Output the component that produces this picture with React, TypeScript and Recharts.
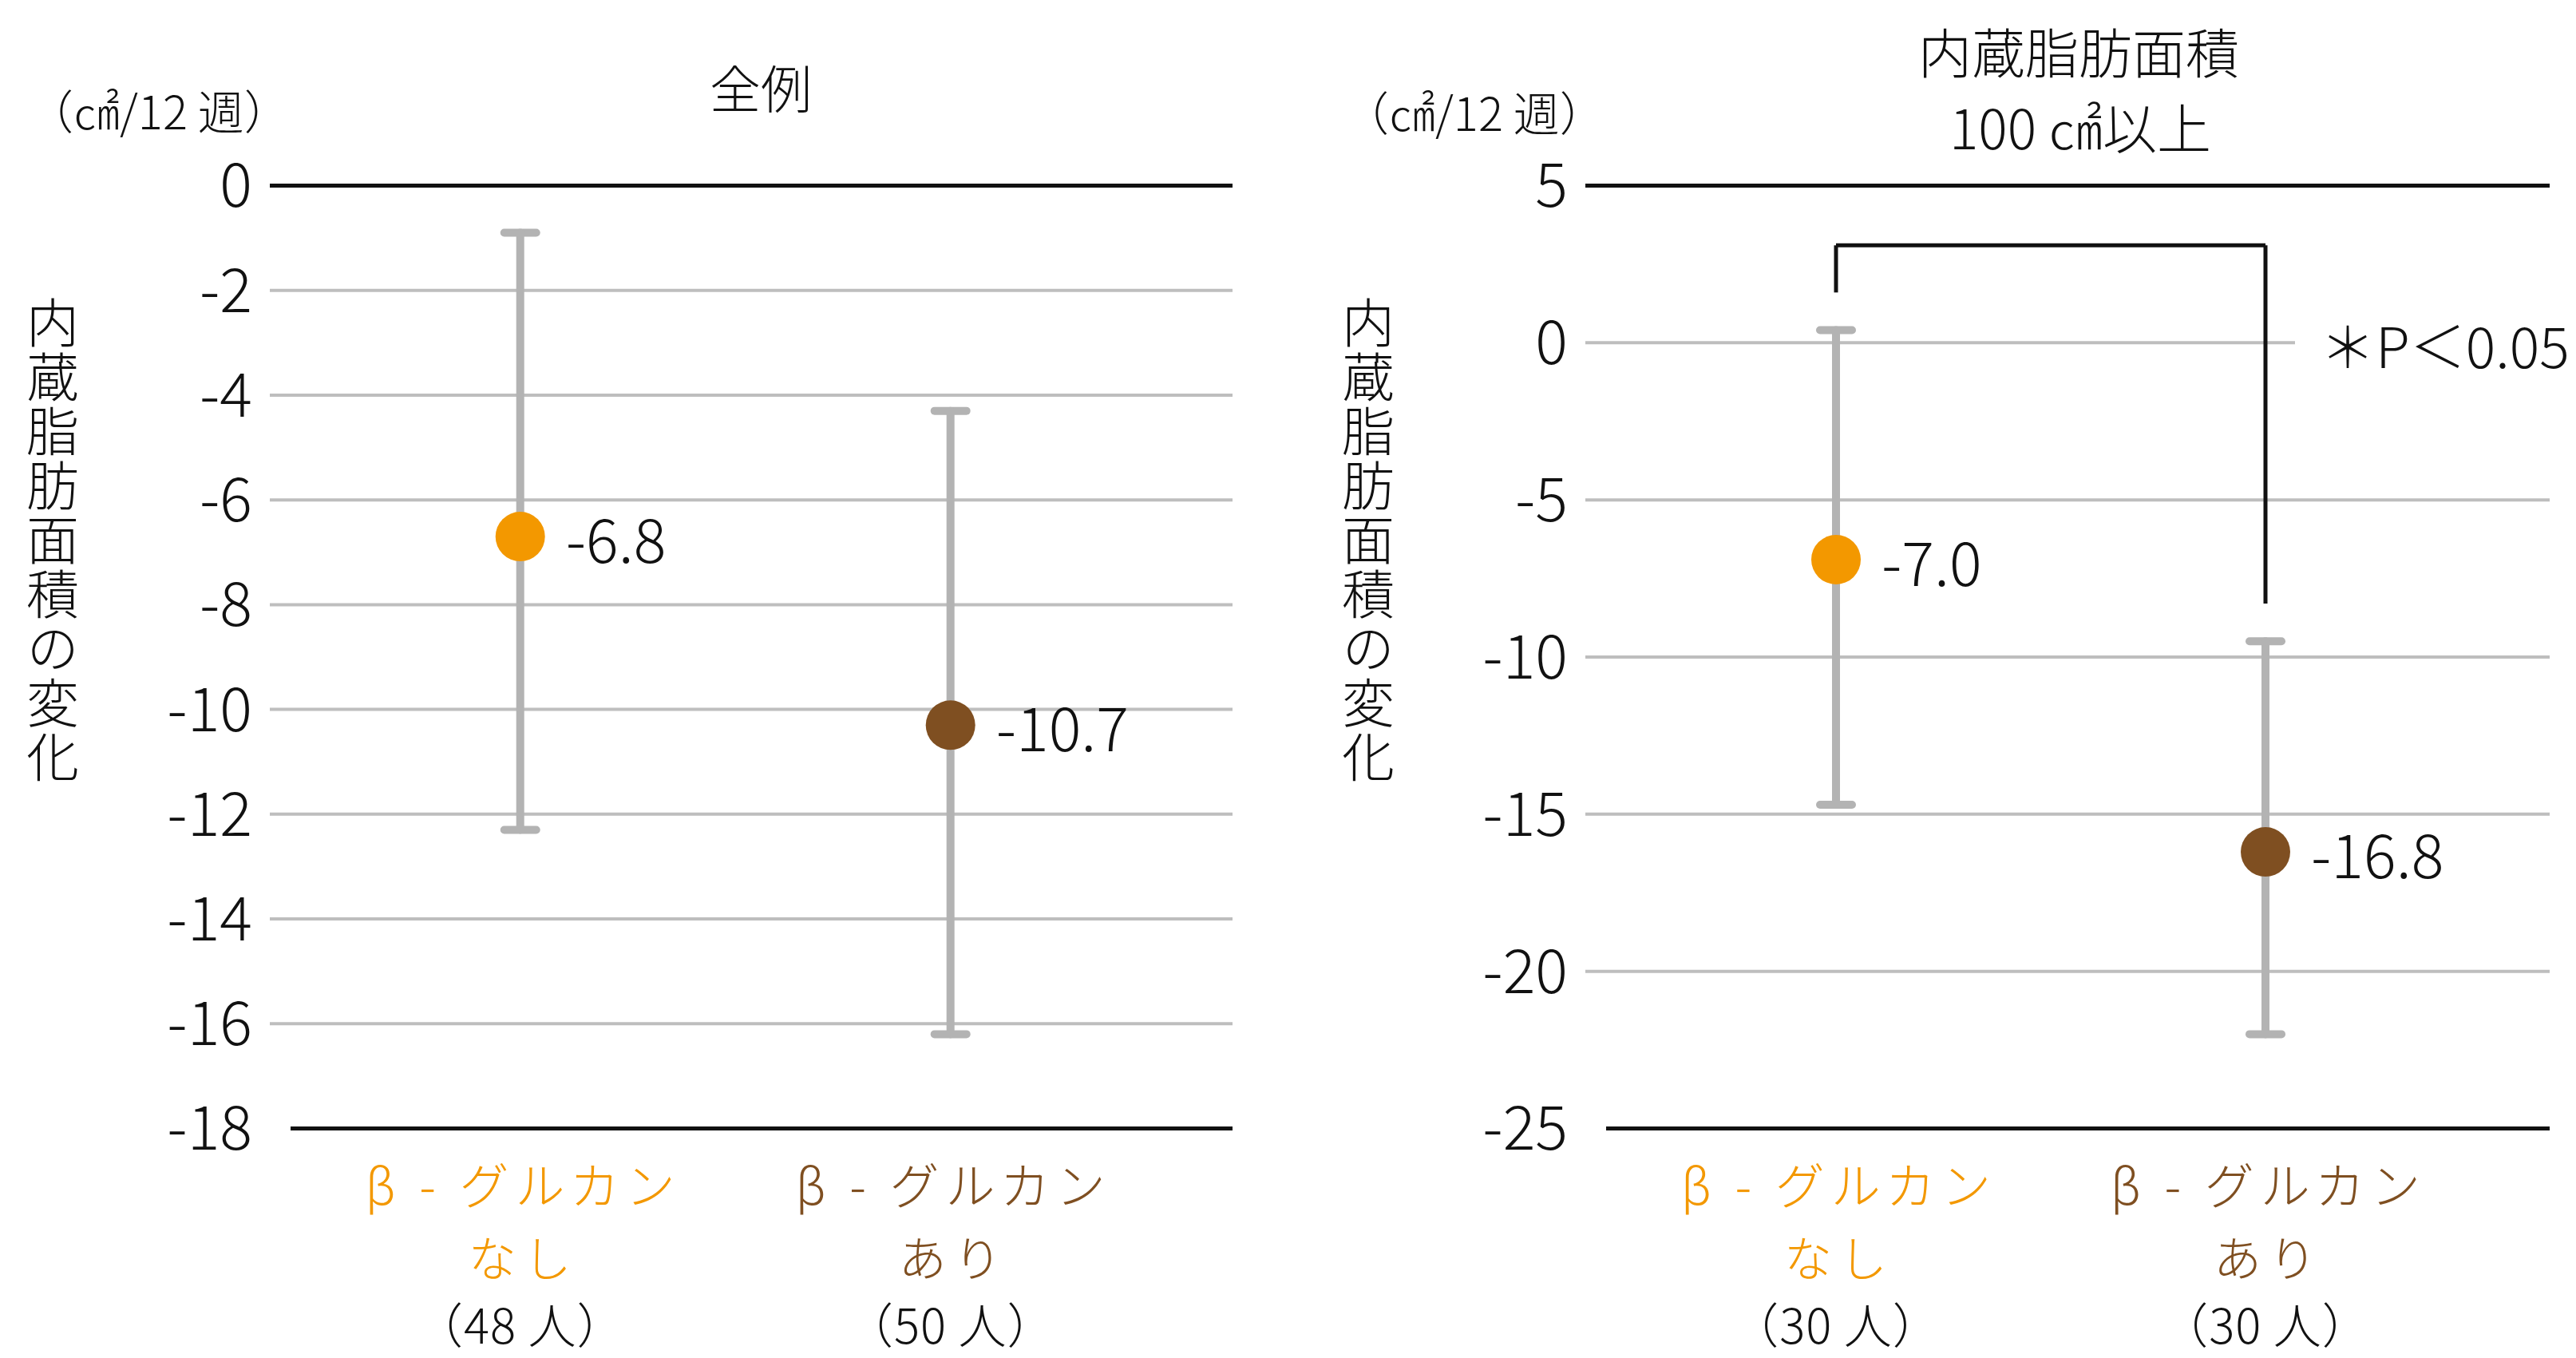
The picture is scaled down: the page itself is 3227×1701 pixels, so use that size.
import React from 'react';
import { LineChart, Line, XAxis, YAxis, CartesianGrid, ErrorBar, ReferenceLine, LabelList } from 'recharts';

const FONT = "'Noto Sans CJK JP', 'Noto Sans', sans-serif";
const ORANGE = '#F39800';
const BROWN = '#7F4F21';
const BAR_GRAY = '#B3B3B3';
const GRID_GRAY = '#BEBEBE';

// categories
const categoryKeys = ['none', 'with'];
const categoryLine1 = ['β - グルカン', 'β - グルカン'];
const categoryLine2 = ['なし', 'あり'];
const categoryColors = [ORANGE, BROWN];

// left panel: 全例
const allTitle = ['全例'];
const allCounts = ['（48 人）', '（50 人）'];
const allMeans = [-6.7, -10.3];
const allLabels = ['-6.8', '-10.7'];
const allUpper = [-0.9, -4.3];
const allLower = [-12.3, -16.2];
const allTicks = [0, -2, -4, -6, -8, -10, -12, -14, -16, -18];
const allGrid = [-2, -4, -6, -8, -10, -12, -14, -16];

// right panel: 内蔵脂肪面積 100㎠以上
const subTitle = ['内蔵脂肪面積', '100 ㎠以上'];
const subCounts = ['（30 人）', '（30 人）'];
const subMeans = [-6.9, -16.2];
const subLabels = ['-7.0', '-16.8'];
const subUpper = [0.4, -9.5];
const subLower = [-14.7, -22.0];
const subTicks = [5, 0, -5, -10, -15, -20, -25];
const subGrid = [0, -5, -10, -15, -20];
const subBracket = { top: 3.1, leftEnd: 1.6, rightEnd: -8.3 };
const pText = '＊P＜0.05';

const unitText = '（㎠/12 週）';
const yTitle = '内蔵脂肪面積の変化';

const H = 1701;
const PLOT_TOP = 232.5;
const PLOT_BOTTOM = 1413.5;
const YAXIS_W = 140;
const XAXIS_H = 260;

function buildData(means: number[], labels: string[], upper: number[], lower: number[]) {
  return categoryKeys.map((k, i) => ({
    key: k,
    mean: means[i],
    label: labels[i],
    err: [means[i] - lower[i], upper[i] - means[i]],
  }));
}

const makeXTick = (counts: string[]) => (props: any) => {
  const { x, y } = props;
  const idx = props.index ?? props.payload?.index ?? 0;
  return (
    <g>
      <text x={x + 4} y={y + 68} textAnchor="middle" dominantBaseline="central" fill={categoryColors[idx]}
        fontSize={62} letterSpacing={8} fontFamily={FONT} fontWeight={300}>{categoryLine1[idx]}</text>
      <text x={x + 4} y={y + 159} textAnchor="middle" dominantBaseline="central" fill={categoryColors[idx]}
        fontSize={60} letterSpacing={9} fontFamily={FONT} fontWeight={300}>{categoryLine2[idx]}</text>
      <text x={x} y={y + 243} textAnchor="middle" dominantBaseline="central" fill="#111"
        fontSize={60} letterSpacing={1} fontFamily={FONT} fontWeight={300}>{counts[idx]}</text>
    </g>
  );
};

const dotRenderer = (p: any) => (
  <circle key={`dot-${p.index}`} cx={p.cx} cy={p.cy} r={31} fill={categoryColors[p.index]} />
);

const labelRenderer = (p: any) => {
  const vb = p.viewBox || {};
  const x = p.x ?? vb.x;
  const y = p.y ?? vb.y;
  return (
    <text x={x + 57} y={y} dominantBaseline="central" fontSize={76} fontFamily={FONT} fontWeight={300} fill="#111">
      {p.value}
    </text>
  );
};

const blackLine = (dxStart: number) => (p: any) => (
  <line x1={p.x1 + dxStart} y1={p.y1} x2={p.x2} y2={p.y2} stroke="#111" strokeWidth={5} />
);

type PanelProps = {
  left: number;
  width: number;
  plotLeft: number;
  plotRight: number;
  catX: [number, number];
  data: any[];
  ticks: number[];
  grid: number[];
  counts: string[];
  shortGridValue?: number;
  shortGridBy?: number;
  bracket?: { top: number; leftEnd: number; rightEnd: number };
};

function Panel(props: PanelProps) {
  const { left, width, plotLeft, plotRight, catX, data, ticks, grid, counts, shortGridValue, shortGridBy, bracket } = props;
  const domain = [Math.min(...ticks), Math.max(...ticks)];
  const margin = {
    top: PLOT_TOP,
    bottom: H - PLOT_BOTTOM - XAXIS_H,
    left: plotLeft - YAXIS_W,
    right: width - plotRight,
  };
  return (
    <div style={{ position: 'absolute', left, top: 0, width, height: H }}>
      <LineChart width={width} height={H} data={data} margin={margin}>
        <CartesianGrid
          vertical={false}
          stroke={GRID_GRAY}
          strokeWidth={4}
          horizontalValues={grid}
          horizontal={(p: any) => {
            const v = grid[p.index];
            const x2 = shortGridValue !== undefined && v === shortGridValue ? p.x2 - (shortGridBy || 0) : p.x2;
            return <line key={`g-${p.index}`} x1={p.x1} y1={p.y1} x2={x2} y2={p.y2} stroke={GRID_GRAY} strokeWidth={4} />;
          }}
        />
        <XAxis
          dataKey="key"
          type="category"
          scale="point"
          padding={{ left: catX[0] - plotLeft, right: plotRight - catX[1] }}
          axisLine={false}
          tickLine={false}
          tickSize={0}
          tickMargin={0}
          interval={0}
          height={XAXIS_H}
          tick={makeXTick(counts)}
        />
        <YAxis
          type="number"
          domain={domain}
          ticks={ticks}
          interval={0}
          allowDataOverflow
          axisLine={false}
          tickLine={false}
          tickSize={0}
          tickMargin={22}
          width={YAXIS_W}
          tick={{ fontSize: 76, fill: '#111', fontFamily: FONT, fontWeight: 300 }}
        />
        <ReferenceLine y={domain[1]} ifOverflow="visible" shape={blackLine(0)} />
        <ReferenceLine y={domain[0]} ifOverflow="visible" shape={blackLine(26)} />
        {bracket && (
          <ReferenceLine
            ifOverflow="visible"
            segment={[{ x: categoryKeys[0], y: bracket.top }, { x: categoryKeys[1], y: bracket.top }]}
            stroke="#111"
            strokeWidth={5}
          />
        )}
        {bracket && (
          <ReferenceLine
            ifOverflow="visible"
            segment={[{ x: categoryKeys[0], y: bracket.top }, { x: categoryKeys[0], y: bracket.leftEnd }]}
            stroke="#111"
            strokeWidth={5}
          />
        )}
        {bracket && (
          <ReferenceLine
            ifOverflow="visible"
            segment={[{ x: categoryKeys[1], y: bracket.top }, { x: categoryKeys[1], y: bracket.rightEnd }]}
            stroke="#111"
            strokeWidth={5}
          />
        )}
        <Line
          dataKey="mean"
          stroke="none"
          isAnimationActive={false}
          dot={dotRenderer}
          activeDot={false}
        >
          <ErrorBar dataKey="err" direction="y" width={20} stroke={BAR_GRAY} strokeWidth={10} strokeLinecap="round" isAnimationActive={false} />
          <LabelList dataKey="label" content={labelRenderer} />
        </Line>
      </LineChart>
    </div>
  );
}

const txt = (extra: React.CSSProperties): React.CSSProperties => ({
  position: 'absolute',
  fontFamily: FONT,
  fontWeight: 300,
  color: '#111',
  whiteSpace: 'nowrap',
  lineHeight: 1,
  ...extra,
});

export default function App() {
  const allData = buildData(allMeans, allLabels, allUpper, allLower);
  const subData = buildData(subMeans, subLabels, subUpper, subLower);
  const RIGHT_LEFT = 1640;
  return (
    <div style={{ position: 'absolute', left: 0, top: 0, width: 3227, height: H, background: '#fff', overflow: 'hidden' }}>
      <Panel
        left={0}
        width={1600}
        plotLeft={338}
        plotRight={1544}
        catX={[651.7, 1190.7]}
        data={allData}
        ticks={allTicks}
        grid={allGrid}
        counts={allCounts}
      />
      <Panel
        left={RIGHT_LEFT}
        width={1587}
        plotLeft={1986 - RIGHT_LEFT}
        plotRight={3194 - RIGHT_LEFT}
        catX={[2300 - RIGHT_LEFT, 2838 - RIGHT_LEFT]}
        data={subData}
        ticks={subTicks}
        grid={subGrid}
        counts={subCounts}
        shortGridValue={0}
        shortGridBy={319}
        bracket={subBracket}
      />
      {/* titles */}
      <div style={txt({ left: 953, top: 107, fontSize: 64, transform: 'translate(-50%, -50%)' })}>{allTitle[0]}</div>
      <div style={txt({ left: 2604, top: 62, fontSize: 67, transform: 'translate(-50%, -50%)' })}>{subTitle[0]}</div>
      <div style={txt({ left: 2606, top: 158, fontSize: 68, transform: 'translate(-50%, -50%)' })}>{subTitle[1]}</div>
      {/* units */}
      <div style={txt({ left: 34, top: 137, fontSize: 58, transform: 'translate(0, -50%)' })}>{unitText}</div>
      <div style={txt({ left: 1682, top: 139, fontSize: 58, transform: 'translate(0, -50%)' })}>{unitText}</div>
      {/* vertical axis titles */}
      <div style={txt({ left: 66, top: 371, fontSize: 66, writingMode: 'vertical-rl', transform: 'translate(-50%, 0)', letterSpacing: 2 })}>{yTitle}</div>
      <div style={txt({ left: 1714, top: 371, fontSize: 66, writingMode: 'vertical-rl', transform: 'translate(-50%, 0)', letterSpacing: 2 })}>{yTitle}</div>
      {/* significance */}
      <div style={txt({ left: 2906, top: 431, fontSize: 70, transform: 'translate(0, -50%)' })}>{pText}</div>
    </div>
  );
}
